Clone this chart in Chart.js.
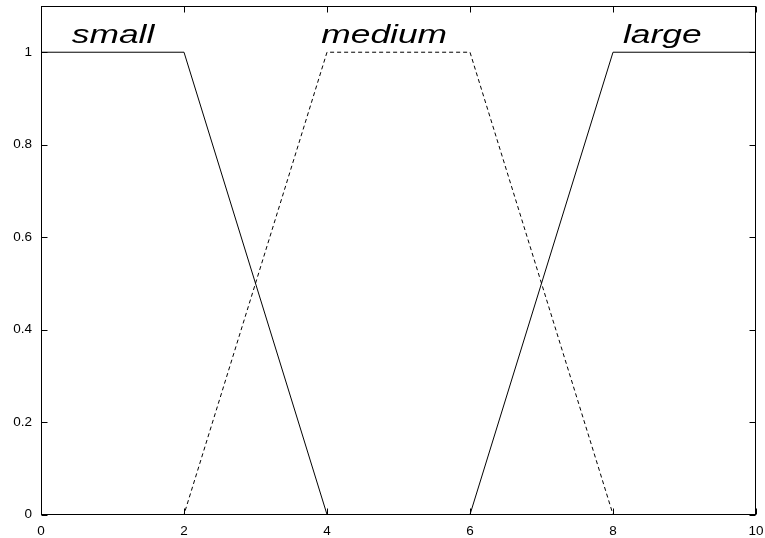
<!DOCTYPE html>
<html>
<head>
<meta charset="utf-8">
<script src="https://cdn.jsdelivr.net/npm/chart.js@4"></script>
<style>
  html, body { margin: 0; padding: 0; background: #fff; }
  #wrap { width: 765px; height: 538px; }
</style>
</head>
<body>
<div id="wrap"><canvas id="c" width="765" height="538"></canvas></div>
<script>
// Membership functions: x breakpoints and degree of membership
const smallX  = [0, 2, 4, 10];
const smallY  = [1, 1, 0, 0];
const mediumX = [0, 2, 4, 6, 8, 10];
const mediumY = [0, 0, 1, 1, 0, 0];
const largeX  = [0, 6, 8, 10];
const largeY  = [0, 0, 1, 1];

const xTicks = [0, 2, 4, 6, 8, 10];
const yTicks = [0, 0.2, 0.4, 0.6, 0.8, 1];

// Set names written above each curve (left edge x, baseline y)
const setNames  = ['small', 'medium', 'large'];
const setNameX  = [0.43, 3.92, 8.14];
const setNameY  = [1.02, 1.02, 1.02];

const toPoints = (xs, ys) => xs.map((x, i) => ({ x: x, y: ys[i] }));

const frameAndLabels = {
  id: 'frameAndLabels',
  afterDatasetsDraw(chart) {
    const { ctx, chartArea: a, scales: { x, y } } = chart;
    ctx.save();
    ctx.strokeStyle = '#000';
    ctx.lineWidth = 1;
    const L = Math.round(a.left) + 0.5, T = Math.round(a.top) + 0.5;
    const R = Math.round(a.right) - 0.5, B = Math.round(a.bottom) - 0.5;
    ctx.strokeRect(L, T, R - L, B - T);
    const tl = 6;
    ctx.beginPath();
    xTicks.forEach(v => {
      const px = Math.round(x.getPixelForValue(v)) + 0.5;
      ctx.moveTo(px, B); ctx.lineTo(px, B - tl);
      ctx.moveTo(px, T); ctx.lineTo(px, T + tl);
    });
    yTicks.forEach(v => {
      const py = Math.round(y.getPixelForValue(v)) + 0.5;
      ctx.moveTo(L, py); ctx.lineTo(L + tl, py);
      ctx.moveTo(R, py); ctx.lineTo(R - tl, py);
    });
    ctx.stroke();

    ctx.fillStyle = '#000';
    ctx.font = 'italic 26px "Liberation Sans", Arial, sans-serif';
    ctx.textAlign = 'left';
    ctx.textBaseline = 'alphabetic';
    setNames.forEach((name, i) => {
      ctx.save();
      ctx.translate(x.getPixelForValue(setNameX[i]), y.getPixelForValue(setNameY[i]));
      ctx.scale(1.36, 1);
      ctx.fillText(name, 0, 0);
      ctx.restore();
    });
    ctx.restore();
  }
};

// Drop the label overhang padding so the plot frame sits at fixed margins
const noOverhang = s => {
  s.paddingTop = 0; s.paddingBottom = 0; s.paddingLeft = 0; s.paddingRight = 0;
};

const lineStyle = { borderColor: '#000', borderWidth: 1, pointRadius: 0, tension: 0, fill: false };
const tickFont = { family: '"Liberation Sans", Arial, sans-serif', size: 13.5 };

new Chart(document.getElementById('c'), {
  type: 'line',
  data: {
    datasets: [
      Object.assign({ label: 'small',  data: toPoints(smallX, smallY) }, lineStyle),
      Object.assign({ label: 'medium', data: toPoints(mediumX, mediumY), borderDash: [4, 3] }, lineStyle),
      Object.assign({ label: 'large',  data: toPoints(largeX, largeY) }, lineStyle)
    ]
  },
  options: {
    responsive: false,
    animation: false,
    layout: { autoPadding: false, padding: { top: 6, right: 9, left: 0, bottom: 0 } },
    plugins: { legend: { display: false }, tooltip: { enabled: false } },
    scales: {
      x: {
        type: 'linear', min: 0, max: 10,
        afterBuildTicks: s => { s.ticks = xTicks.map(v => ({ value: v })); },
        afterFit: s => { s.height = 23.5; noOverhang(s); },
        grid: { display: false, drawTicks: false },
        border: { display: false },
        ticks: { color: '#000', padding: 9, maxRotation: 0, font: tickFont,
                 callback: v => String(v) }
      },
      y: {
        type: 'linear', min: 0, max: 1.1,
        afterBuildTicks: s => { s.ticks = yTicks.map(v => ({ value: v })); },
        afterFit: s => { s.width = 41; noOverhang(s); },
        grid: { display: false, drawTicks: false },
        border: { display: false },
        ticks: { color: '#000', padding: 9, font: tickFont,
                 callback: v => String(v) }
      }
    }
  },
  plugins: [frameAndLabels]
});
</script>
</body>
</html>
